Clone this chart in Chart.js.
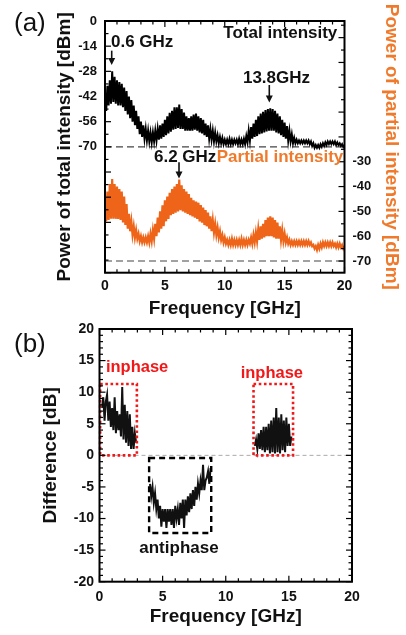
<!DOCTYPE html>
<html><head><meta charset="utf-8">
<script src="https://cdn.jsdelivr.net/npm/chart.js@4/dist/chart.umd.min.js"></script>
<style>
html,body{margin:0;padding:0;background:#fff;width:406px;height:635px;overflow:hidden}
#c1{position:absolute;left:0;top:0}
#c2{position:absolute;left:0;top:315px}
</style></head><body>
<canvas id="c1" width="406" height="330"></canvas>
<canvas id="c2" width="406" height="320"></canvas>
<script>
// ---------------- data ----------------
// spectrum sampled every 0.1 GHz from 0 to 20 GHz
const spectrumStartGHz = 0;
const spectrumStepGHz = 0.1;
const totalDbm = [
 -42, -50, -36, -47, -33, -46, -28, -45, -31, -46,
 -33, -47, -34, -47, -35, -48, -37, -50, -39, -52,
 -42, -54, -44, -56, -47, -58, -50, -60, -53, -63,
 -56, -64.5, -58, -65.5, -60, -66.5, -61, -67, -62, -67.5,
 -62, -67, -61, -66.5, -60, -66, -58, -65.5, -57, -64.5,
 -55, -63.5, -53, -62.5, -51, -61.5, -50, -60.5, -48, -60,
 -48, -59.5, -46.5, -60, -49, -60, -51, -61, -53, -61,
 -54, -61, -53, -61, -52, -60.5, -51.5, -61, -53, -62,
 -54, -62.5, -55, -63.5, -57, -64.5, -58, -65.5, -60, -66,
 -61, -67, -62, -67, -63.5, -68, -64.5, -68, -65, -68.5,
 -66, -68.5, -66, -68.5, -65.5, -68.5, -66, -68.5, -66, -68,
 -66, -68.5, -65.5, -68.5, -66, -68.5, -65.5, -68.5, -64, -67.5,
 -61, -66.5, -59, -65.5, -57, -64.5, -55, -64, -53, -63,
 -51.5, -62.5, -50.5, -62, -49.5, -61.5, -49, -61, -48.5, -61,
 -49, -61, -50, -62, -51.5, -62.5, -53, -63.5, -55, -64.5,
 -56.5, -65.5, -58.5, -66.5, -61, -67, -63, -68, -65, -68,
 -66, -68, -66.5, -68, -66.5, -68, -66.5, -68, -66.5, -68,
 -66.5, -68.5, -67, -69.5, -68, -70.5, -69, -70.5, -69, -70.5,
 -68.5, -70, -68, -69.5, -67.5, -69, -67, -68.5, -67, -68.5,
 -67, -68.5, -67, -69, -67.5, -69, -68, -69.5, -68.5, -70,
 -69
];
const partialDbm = [
 -47.5, -54, -42, -53.5, -39, -53, -37, -53, -39, -53,
 -40, -53, -41, -53.5, -42, -54.5, -44, -55.5, -47, -57,
 -51, -58, -54, -59.5, -56, -60.5, -57.5, -61, -59, -62,
 -60, -62.5, -60.5, -62.5, -60.5, -62.5, -60, -62.5, -59, -62,
 -57.5, -61, -55, -60, -52.5, -58.5, -50, -57, -47.5, -56,
 -45.5, -54, -44, -53, -42.5, -51.5, -41, -51, -40, -50.5,
 -39, -50, -37.2, -49.5, -39.5, -50, -41, -50.5, -42, -51,
 -43, -51.5, -44.5, -52, -45.5, -52.5, -46, -53, -46.5, -54,
 -47.5, -54.5, -48.5, -55.5, -49.5, -56, -50.5, -57, -52, -58,
 -53.5, -58.5, -55, -59.5, -56.5, -60.5, -58, -61.5, -59.5, -62.5,
 -60.5, -63, -61.5, -63.5, -61.5, -63.5, -61, -63.5, -61.5, -63.5,
 -61.5, -63.5, -61.5, -63.5, -61, -63.5, -61.5, -63.5, -61.5, -63.5,
 -61.5, -63, -60.5, -63, -59.5, -62.5, -58.5, -62, -57, -61.5,
 -56, -61, -55, -60.5, -53.5, -60, -52.5, -60, -52, -60,
 -52.5, -60.5, -53.5, -61, -54.5, -61, -56, -61.5, -57.5, -62,
 -59, -62.5, -60.5, -63, -61.5, -63.5, -62, -63.5, -62, -63.5,
 -62, -63.5, -62, -63.5, -62, -63.5, -62, -63.5, -62, -63.5,
 -62, -63.5, -62.5, -64, -63.5, -65, -64, -65.5, -63.5, -65,
 -63, -64.5, -62.5, -64, -62.5, -64, -62.5, -64, -62.5, -64,
 -62.5, -64, -63, -64.5, -63, -64.5, -63, -64.5, -63.5, -65,
 -64
];
// difference (dB), three measured windows, 0.1 GHz sampling
const diffStepGHz = 0.1;
const inphaseLowStartGHz = 0.2;
const diffInphaseLow = [7.5, 9.2, 5.5, 8.5, 9.6, 5.5, 8.5, 4.5, 7.5, 4, 9.2, 3.5, 7, 4, 6.5, 3, 10.8, 2.5, 8, 2, 7, 1.5, 6.5, 1, 4.5, 1, 3.5, 2];
const antiphaseStartGHz = 4.0;
const diffAntiphase = [
 -4.5, -6.5, -5, -7.5, -6, -8.5, -7, -10, -8, -11.3,
 -8.5, -10.5, -8.5, -11.5, -8.5, -10.5, -8.5, -11, -8.5, -11.5,
 -8, -10, -8.5, -11, -7.5, -10, -7, -11.5, -7, -9.5,
 -6.5, -9, -6, -8.5, -5.5, -8, -5, -7, -4.5, -6,
 -4, -5.5, -1.5, -5.5, -4, -3.5, -2.5, -4.5, -2
];
const inphaseHighStartGHz = 12.3;
const diffInphaseHigh = [
 1.5, 2.5, 1, 3.5, 1, 4, 0.8, 4.5, 0.5, 4.5,
 0.8, 5, 0.3, 5.5, 0.5, 6, 0.3, 7.5, 0.5, 6,
 0.3, 6.5, 0.8, 5.5, 0.5, 6, 1.5, 5, 1.5, 3
];
// ticks
const freqTicksGHz = [0, 5, 10, 15, 20];
const totalTickLabels = [0, -14, -28, -42, -56, -70];
const partialTickLabels = [-30, -40, -50, -60, -70];
const diffTickLabels = [-20, -15, -10, -5, 0, 5, 10, 15, 20];

// ---------------- styling ----------------
const FONT = '"Liberation Sans", Arial, Helvetica, sans-serif';
const INK = '#111';
const ORANGE = '#EE6418';
const ORANGE_TXT = '#F07A2C';
const RED = '#F01818';

function toPoints(start, step, values) {
  return values.map((v, i) => ({ x: +(start + i * step).toFixed(3), y: v }));
}

const decor = {
  id: 'decor',
  beforeDatasetsDraw(chart, args, o) {
    const ctx = chart.ctx, a = chart.chartArea;
    ctx.save();
    (o.hlines || []).forEach(h => {
      const y = chart.scales[h.axis].getPixelForValue(h.value);
      ctx.beginPath(); ctx.setLineDash(h.dash); ctx.strokeStyle = h.color; ctx.lineWidth = h.width;
      ctx.moveTo(a.left, y); ctx.lineTo(a.right, y); ctx.stroke();
    });
    ctx.restore();
  },
  afterDraw(chart, args, o) {
    const ctx = chart.ctx, a = chart.chartArea, sx = chart.scales.x;
    ctx.save();
    (o.boxes || []).forEach(b => {
      const sy = chart.scales[b.axis];
      const x1 = sx.getPixelForValue(b.x1), x2 = sx.getPixelForValue(b.x2);
      const y1 = sy.getPixelForValue(b.y1), y2 = sy.getPixelForValue(b.y2);
      ctx.beginPath(); ctx.setLineDash(b.dash); ctx.strokeStyle = b.color; ctx.lineWidth = b.width;
      ctx.rect(Math.min(x1, x2), Math.min(y1, y2), Math.abs(x2 - x1), Math.abs(y2 - y1));
      ctx.stroke();
    });
    ctx.setLineDash([]);
    ctx.strokeStyle = '#000'; ctx.lineWidth = 2;
    ctx.strokeRect(a.left, a.top, a.right - a.left, a.bottom - a.top);
    ctx.lineWidth = 1.2;
    (o.ticks || []).forEach(t => {
      const s = chart.scales[t.axis];
      for (let k = 0; ; k++) {
        const v = t.from + k * t.step;
        if (v > t.to + 1e-9) break;
        const r = v / t.major;
        const isMajor = Math.abs(r - Math.round(r)) < 1e-6;
        const len = isMajor ? 6 : 3.5;
        const p = s.getPixelForValue(v);
        ctx.beginPath();
        if (t.side === 'bottom') { ctx.moveTo(p, a.bottom); ctx.lineTo(p, a.bottom - len); }
        if (t.side === 'top') { ctx.moveTo(p, a.top); ctx.lineTo(p, a.top + len); }
        if (t.side === 'left') { ctx.moveTo(a.left, p); ctx.lineTo(a.left + len, p); }
        if (t.side === 'right') { ctx.moveTo(a.right, p); ctx.lineTo(a.right - len, p); }
        ctx.stroke();
      }
    });
    (o.arrows || []).forEach(ar => {
      const sy = chart.scales[ar.axis];
      const x = sx.getPixelForValue(ar.x), y1 = sy.getPixelForValue(ar.y1), y2 = sy.getPixelForValue(ar.y2);
      ctx.strokeStyle = INK; ctx.fillStyle = INK; ctx.lineWidth = 1.6;
      ctx.beginPath(); ctx.moveTo(x, y1); ctx.lineTo(x, y2 - 6); ctx.stroke();
      ctx.beginPath(); ctx.moveTo(x - 3.5, y2 - 7); ctx.lineTo(x + 3.5, y2 - 7); ctx.lineTo(x, y2); ctx.closePath(); ctx.fill();
    });
    (o.texts || []).forEach(t => {
      let x, y;
      if (t.axis) { x = sx.getPixelForValue(t.x); y = chart.scales[t.axis].getPixelForValue(t.y); }
      else { x = t.px; y = t.py; }
      ctx.font = t.font; ctx.fillStyle = t.color; ctx.textAlign = t.align; ctx.textBaseline = 'middle';
      ctx.fillText(t.text, x, y);
    });
    ctx.restore();
  }
};
Chart.register(decor);

const tickFont = (size) => ({ family: FONT, size: size, weight: 'bold' });
const titleFont = { family: FONT, size: 19, weight: 'bold' };
const bold17 = `bold 17px ${FONT}`;

// ---------------- chart (a) ----------------
new Chart(document.getElementById('c1'), {
  type: 'line',
  data: {
    datasets: [
      { label: 'Total intensity', data: toPoints(spectrumStartGHz, spectrumStepGHz, totalDbm), yAxisID: 'y',
        borderColor: '#000', borderWidth: 2, pointRadius: 0, tension: 0 },
      { label: 'Partial intensity', data: toPoints(spectrumStartGHz, spectrumStepGHz, partialDbm), yAxisID: 'y2',
        borderColor: ORANGE, borderWidth: 2.2, pointRadius: 0, tension: 0 }
    ]
  },
  options: {
    responsive: false, animation: false,
    layout: { padding: { top: 21, left: 0, right: 0, bottom: 0 } },
    plugins: {
      legend: { display: false }, tooltip: { enabled: false },
      decor: {
        hlines: [
          { axis: 'y', value: -70, color: '#444', dash: [7, 4], width: 1.1 },
          { axis: 'y2', value: -70, color: '#444', dash: [7, 4], width: 1.1 }
        ],
        ticks: [
          { axis: 'x', side: 'bottom', from: 0, to: 20, step: 1, major: 5 },
          { axis: 'x', side: 'top', from: 0, to: 20, step: 1, major: 5 },
          { axis: 'y', side: 'left', from: -140, to: 0, step: 7, major: 14 },
          { axis: 'y2', side: 'right', from: -70, to: 25, step: 5, major: 10 }
        ],
        arrows: [
          { axis: 'y', x: 0.56, y1: -16.5, y2: -24.5 },
          { axis: 'y', x: 13.72, y1: -35.6, y2: -45.3 },
          { axis: 'y', x: 6.18, y1: -78.5, y2: -87.6 }
        ],
        texts: [
          { text: '(a)', px: 14, py: 24, align: 'left', color: INK, font: `26px ${FONT}` },
          { text: '0.6 GHz', axis: 'y', x: 0.5, y: -11.7, align: 'left', color: INK, font: bold17 },
          { text: 'Total intensity', axis: 'y', x: 19.4, y: -6.8, align: 'right', color: INK, font: bold17 },
          { text: '13.8GHz', axis: 'y', x: 14.32, y: -31.9, align: 'center', color: INK, font: bold17 },
          { text: '6.2 GHz', axis: 'y', x: 4.09, y: -75.9, align: 'left', color: INK, font: bold17 },
          { text: 'Partial intensity', axis: 'y', x: 9.33, y: -75.9, align: 'left', color: ORANGE_TXT, font: bold17 }
        ]
      }
    },
    scales: {
      x: {
        type: 'linear', min: 0, max: 20,
        afterBuildTicks: s => { s.ticks = freqTicksGHz.map(v => ({ value: v })); },
        ticks: { font: tickFont(14), color: INK, padding: 5, autoSkip: false, maxRotation: 0 },
        grid: { display: false, drawTicks: false }, border: { display: false },
        title: { display: true, text: 'Frequency [GHz]', font: titleFont, color: INK, padding: { top: 0, bottom: 10.3 } },
        afterFit: s => { s.height = 57.3; }
      },
      y: {
        position: 'left', min: -140, max: 0,
        afterBuildTicks: s => { s.ticks = totalTickLabels.map(v => ({ value: v })); },
        ticks: { font: tickFont(13), color: INK, padding: 8, autoSkip: false },
        grid: { display: false, drawTicks: false }, border: { display: false },
        title: { display: true, text: 'Power of total intensity [dBm]', font: titleFont, color: INK, padding: { top: 53.6, bottom: 0 } },
        afterFit: s => { s.width = 105; }
      },
      y2: {
        position: 'right', min: -74.7, max: 26.7,
        afterBuildTicks: s => { s.ticks = partialTickLabels.map(v => ({ value: v })); },
        ticks: { font: tickFont(13), color: INK, padding: 8, autoSkip: false },
        grid: { display: false, drawTicks: false }, border: { display: false },
        title: { display: true, text: 'Power of partial intensity [dBm]', font: titleFont, color: ORANGE_TXT, padding: { top: 3.6, bottom: 0 } },
        afterFit: s => { s.width = 61.5; }
      }
    }
  }
});

// ---------------- chart (b) ----------------
const diffLine = { borderColor: INK, borderWidth: 2, pointRadius: 0, tension: 0 };
new Chart(document.getElementById('c2'), {
  type: 'line',
  data: {
    datasets: [
      Object.assign({ label: 'inphase low', data: toPoints(inphaseLowStartGHz, diffStepGHz, diffInphaseLow) }, diffLine),
      Object.assign({ label: 'antiphase', data: toPoints(antiphaseStartGHz, diffStepGHz, diffAntiphase) }, diffLine),
      Object.assign({ label: 'inphase high', data: toPoints(inphaseHighStartGHz, diffStepGHz, diffInphaseHigh) }, diffLine)
    ]
  },
  options: {
    responsive: false, animation: false,
    layout: { padding: { top: 14, left: 0, right: 54, bottom: 0 } },
    plugins: {
      legend: { display: false }, tooltip: { enabled: false },
      decor: {
        hlines: [ { axis: 'y', value: 0, color: '#aaa', dash: [4, 3], width: 1 } ],
        boxes: [
          { axis: 'y', x1: 0.05, x2: 2.96, y1: 0, y2: 11.3, color: RED, dash: [2.6, 2.6], width: 2.6 },
          { axis: 'y', x1: 12.2, x2: 15.33, y1: 0, y2: 11.3, color: RED, dash: [2.6, 2.6], width: 2.6 },
          { axis: 'y', x1: 3.93, x2: 8.85, y1: -0.43, y2: -12.3, color: '#000', dash: [6, 4], width: 2.4 }
        ],
        ticks: [
          { axis: 'x', side: 'bottom', from: 0, to: 20, step: 1, major: 5 },
          { axis: 'x', side: 'top', from: 0, to: 20, step: 1, major: 5 },
          { axis: 'y', side: 'left', from: -20, to: 20, step: 1, major: 5 },
          { axis: 'y', side: 'right', from: -20, to: 20, step: 1, major: 5 }
        ],
        texts: [
          { text: '(b)', px: 14, py: 30, align: 'left', color: INK, font: `26px ${FONT}` },
          { text: 'inphase', axis: 'y', x: 0.51, y: 13.97, align: 'left', color: RED, font: `bold 16.5px ${FONT}` },
          { text: 'inphase', axis: 'y', x: 11.18, y: 12.93, align: 'left', color: RED, font: `bold 16.5px ${FONT}` },
          { text: 'antiphase', axis: 'y', x: 3.15, y: -14.76, align: 'left', color: INK, font: bold17 }
        ]
      }
    },
    scales: {
      x: {
        type: 'linear', min: 0, max: 20,
        afterBuildTicks: s => { s.ticks = freqTicksGHz.map(v => ({ value: v })); },
        ticks: { font: tickFont(14), color: INK, padding: 7, autoSkip: false, maxRotation: 0 },
        grid: { display: false, drawTicks: false }, border: { display: false },
        title: { display: true, text: 'Frequency [GHz]', font: titleFont, color: INK, padding: { top: 0, bottom: 6.9 } },
        afterFit: s => { s.height = 53.3; }
      },
      y: {
        position: 'left', min: -20, max: 20,
        afterBuildTicks: s => { s.ticks = diffTickLabels.map(v => ({ value: v })); },
        ticks: { font: tickFont(14), color: INK, padding: 5.5, autoSkip: false },
        grid: { display: false, drawTicks: false }, border: { display: false },
        title: { display: true, text: 'Difference [dB]', font: titleFont, color: INK, padding: { top: 39.1, bottom: 0 } },
        afterFit: s => { s.width = 99.5; }
      }
    }
  }
});
</script>
</body></html>
